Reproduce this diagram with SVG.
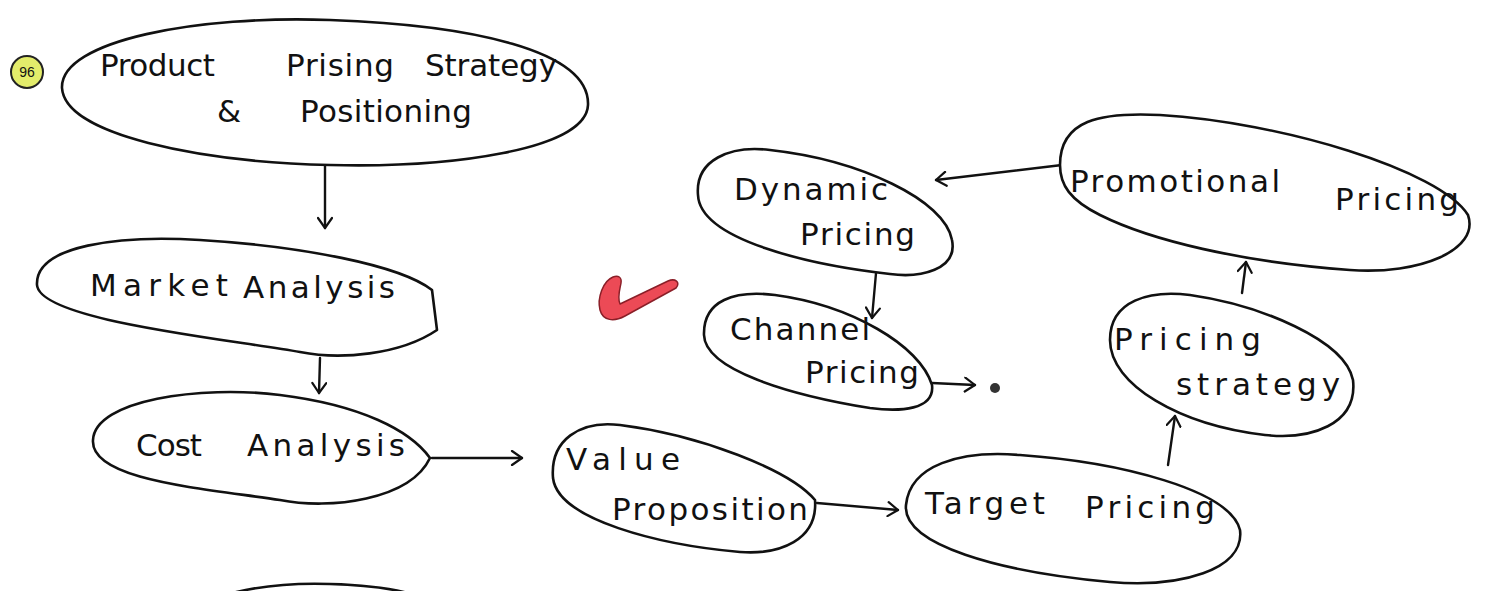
<svg xmlns="http://www.w3.org/2000/svg" width="1496" height="591" viewBox="0 0 1496 591">
<style>
.node{fill:#fff;stroke:#111;stroke-width:2.6;stroke-linejoin:round}
.lbl{font-family:"DejaVu Sans","Liberation Sans",Arial,sans-serif;font-size:31px;fill:#111}
.edge{fill:none;stroke:#111;stroke-width:2.4;stroke-linecap:round}
</style>
<defs>
<marker id="ah" markerWidth="16" markerHeight="16" refX="12" refY="8" orient="auto" markerUnits="userSpaceOnUse">
<path d="M2,1 L12,8 L2,15" fill="none" stroke="#111" stroke-width="2.2" stroke-linecap="round" stroke-linejoin="round"/>
</marker>
</defs>
<rect width="1496" height="591" fill="#fff"/>

<g id="badge">
<circle cx="27" cy="72" r="16" fill="#e3ec6b" stroke="#222" stroke-width="2"/>
<text x="27" y="77" text-anchor="middle" font-family="Liberation Sans,Arial,sans-serif" font-size="14" fill="#111">96</text>
</g>

<g id="check">
<path d="M613,277 C603,281 597,298 600,310 C603,321 614,322 625,316 L676,288 C681,282 675,278 668,281 L620,304 C617,297 620,289 621,283 C622,277 618,275 613,277 Z" fill="#ec4a56" stroke="#8a1f28" stroke-width="1.5" stroke-linejoin="round"/>
</g>

<g id="connectors">
<path class="edge" d="M325,166 L325,228" marker-end="url(#ah)"/>
<path class="edge" d="M320,358 L319,393" marker-end="url(#ah)"/>
<path class="edge" d="M432,458 L522,458" marker-end="url(#ah)"/>
<path class="edge" d="M817,503 L898,510" marker-end="url(#ah)"/>
<path class="edge" d="M1168,465 L1175,416" marker-end="url(#ah)"/>
<path class="edge" d="M1242,293 L1246,262" marker-end="url(#ah)"/>
<path class="edge" d="M1062,165 L936,180" marker-end="url(#ah)"/>
<path class="edge" d="M877,262 L872,318" marker-end="url(#ah)"/>
<path class="edge" d="M932,383 L975,385" marker-end="url(#ah)"/>
<circle cx="995" cy="388" r="5" fill="#333"/>
</g>

<g id="n-product">
<path class="node" d="M62,88 C60,40 200,15 330,20 C470,25 590,50 588,105 C586,150 450,168 330,165 C200,162 65,135 62,88 Z"/>
<text class="lbl" x="100" y="76" textLength="115" lengthAdjust="spacing">Product</text>
<text class="lbl" x="286" y="76" textLength="108" lengthAdjust="spacing">Prising</text>
<text class="lbl" x="425" y="76" textLength="132" lengthAdjust="spacing">Strategy</text>
<text class="lbl" x="217" y="122">&amp;</text>
<text class="lbl" x="300" y="122" textLength="172" lengthAdjust="spacing">Positioning</text>
</g>

<g id="n-market">
<path class="node" d="M37,285 C35,245 120,235 200,240 C300,246 400,265 432,290 L437,330 C400,355 340,360 300,352 C220,338 40,320 37,285 Z"/>
<text class="lbl" x="90" y="296" textLength="138" lengthAdjust="spacing">Market</text>
<text class="lbl" x="243" y="298" textLength="152" lengthAdjust="spacing">Analysis</text>
</g>

<g id="n-cost">
<path class="node" d="M93,440 C95,400 200,385 280,395 C360,405 410,430 430,458 C410,500 330,510 280,500 C200,488 90,480 93,440 Z"/>
<text class="lbl" x="136" y="456" textLength="66" lengthAdjust="spacing">Cost</text>
<text class="lbl" x="247" y="456" textLength="158" lengthAdjust="spacing">Analysis</text>
</g>

<g id="n-value">
<path class="node" d="M553,478 C550,440 580,420 620,425 C700,435 790,470 815,500 C818,540 780,555 740,552 C660,545 558,520 553,478 Z"/>
<text class="lbl" x="566" y="470" textLength="114" lengthAdjust="spacing">Value</text>
<text class="lbl" x="612" y="520" textLength="196" lengthAdjust="spacing">Proposition</text>
</g>

<g id="n-target">
<path class="node" d="M906,505 C910,465 960,450 1020,455 C1120,462 1230,490 1240,530 C1245,570 1180,588 1110,582 C1000,572 902,545 906,505 Z"/>
<text class="lbl" x="925" y="514" textLength="120" lengthAdjust="spacing">Target</text>
<text class="lbl" x="1085" y="518" textLength="130" lengthAdjust="spacing">Pricing</text>
</g>

<g id="n-strategy">
<path class="node" d="M1110,340 C1110,300 1150,290 1190,295 C1260,305 1345,340 1353,380 C1358,425 1310,440 1265,435 C1180,425 1110,385 1110,340 Z"/>
<text class="lbl" x="1114" y="350" textLength="147" lengthAdjust="spacing">Pricing</text>
<text class="lbl" x="1176" y="395" textLength="164" lengthAdjust="spacing">strategy</text>
</g>

<g id="n-promo">
<path class="node" d="M1060,165 C1060,120 1100,112 1160,115 C1280,122 1440,170 1468,215 C1480,250 1420,275 1350,270 C1240,262 1150,240 1100,215 C1070,200 1060,185 1060,165 Z"/>
<text class="lbl" x="1070" y="192" textLength="210" lengthAdjust="spacing">Promotional</text>
<text class="lbl" x="1335" y="210" textLength="124" lengthAdjust="spacing">Pricing</text>
</g>

<g id="n-dynamic">
<path class="node" d="M698,195 C695,160 730,145 770,150 C860,160 945,200 952,240 C958,270 920,278 890,274 C810,265 700,240 698,195 Z"/>
<text class="lbl" x="734" y="200" textLength="154" lengthAdjust="spacing">Dynamic</text>
<text class="lbl" x="800" y="245" textLength="115" lengthAdjust="spacing">Pricing</text>
</g>

<g id="n-channel">
<path class="node" d="M704,335 C703,300 735,290 775,295 C850,305 920,345 932,385 C935,410 900,412 870,408 C790,395 705,370 704,335 Z"/>
<text class="lbl" x="730" y="340" textLength="140" lengthAdjust="spacing">Channel</text>
<text class="lbl" x="805" y="383" textLength="114" lengthAdjust="spacing">Pricing</text>
</g>

<g id="n-partial">
<path class="node" d="M225,595 C260,585 300,583 330,584 C370,585 395,589 415,595" fill="none"/>
</g>
</svg>
